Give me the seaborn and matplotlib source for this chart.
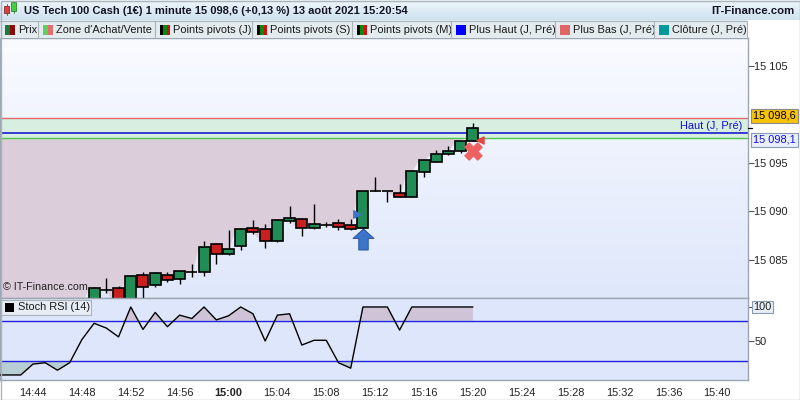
import numpy as np
import pandas as pd
import matplotlib
matplotlib.use("Agg")
import matplotlib.pyplot as plt
import seaborn as sns
from matplotlib.patches import Rectangle
from matplotlib.path import Path

# ---------------- data (minute = minutes after 14:00) ----------------
minutes = list(range(41, 81))
opens = [15078.0, 15078.4, 15078.2, 15078.9, 15079.1, 15078.7, 15079.2, 15080.0,
         15080.6, 15081.9, 15082.1, 15080.5, 15083.45, 15082.42, 15083.45, 15083.04,
         15083.76, 15083.76, 15086.65, 15085.62, 15086.44, 15088.30, 15088.20, 15086.96,
         15089.02, 15089.23, 15088.30, 15088.61, 15088.81, 15088.61, 15088.30, 15092.11,
         15092.11, 15091.91, 15091.49, 15094.07, 15095.10, 15095.93, 15096.24, 15097.27]
highs = [15078.6, 15078.9, 15079.0, 15079.5, 15079.4, 15079.4, 15080.3, 15080.8,
         15082.2, 15083.14, 15082.3, 15083.35, 15083.76, 15083.76, 15083.76, 15083.87,
         15084.59, 15086.96, 15086.75, 15088.09, 15088.30, 15089.12, 15088.71, 15089.12,
         15090.57, 15089.23, 15090.77, 15088.92, 15089.23, 15089.23, 15092.11, 15093.56,
         15092.11, 15092.84, 15094.28, 15095.31, 15096.34, 15096.75, 15097.27, 15099.12]
lows = [15077.6, 15077.9, 15077.8, 15078.5, 15078.4, 15078.3, 15078.9, 15079.7,
        15080.3, 15081.6, 15080.2, 15080.3, 15081.0, 15082.22, 15082.73, 15082.53,
        15083.25, 15083.35, 15084.59, 15085.52, 15086.03, 15087.68, 15086.24, 15086.86,
        15088.81, 15087.47, 15088.20, 15088.40, 15088.09, 15088.09, 15088.20, 15092.11,
        15090.98, 15091.49, 15091.49, 15093.56, 15095.10, 15095.82, 15096.03, 15097.27]
closes = [15078.4, 15078.2, 15078.9, 15079.1, 15078.7, 15079.2, 15080.0, 15080.6,
          15082.11, 15081.9, 15080.5, 15083.35, 15082.22, 15083.66, 15082.94, 15083.87,
          15083.76, 15086.34, 15085.62, 15086.13, 15088.20, 15087.89, 15086.96, 15089.12,
          15089.33, 15088.30, 15088.71, 15088.61, 15088.40, 15088.20, 15092.11, 15092.11,
          15092.11, 15091.49, 15094.18, 15095.31, 15095.93, 15096.24, 15097.27, 15098.61]

stoch_rsi = [0, 0, 0, 16, 18, 7, 18, 52, 76, 69, 56, 100, 67, 92, 71, 88, 83, 100,
             81, 87, 100, 90, 50, 88, 90, 44, 51, 51, 18, 10, 100, 100, 100, 66, 100,
             100, 100, 100, 100, 100]

level_red = 15099.6      # upper line of the band
level_high = 15098.1     # Plus Haut (J, Pré)
level_green = 15097.6    # lower line of the band
last_price = 15098.6

buy_arrow_min = 71
buy_tri = (70.5, 15089.7)
sell_x = (80, 15096.2)
sell_tri = (80.6, 15097.4)

tick_minutes = list(range(44, 101, 4))
tick_labels = [f"{14 + m // 60}:{m % 60:02d}" for m in tick_minutes]
price_ticks = [15085, 15090, 15095, 15105]

df = pd.DataFrame({"minute": minutes, "open": opens, "high": highs,
                   "low": lows, "close": closes, "rsi": stoch_rsi})

# ---------------- style ----------------
sns.set_theme(style="white")
plt.rcParams["font.family"] = ["Liberation Sans", "DejaVu Sans"]
FS = 7.9

W, H = 800, 400
fig = plt.figure(figsize=(8, 4), dpi=100)
fig.patch.set_facecolor("white")

ax = fig.add_axes([0, 102 / H, 747.5 / W, 260 / H], zorder=2)
axr = fig.add_axes([0, 20 / H, 747.5 / W, 82 / H], zorder=2)
ov = fig.add_axes([0, 0, 1, 1], zorder=5)
ov.set_xlim(0, W)
ov.set_ylim(H, 0)
ov.axis("off")
ov.patch.set_alpha(0)

x_lo, x_hi = 41.30, 102.47
y_lo, y_hi = 15081.08, 15107.89
spine_c = "#9ba6b0"

# ---------------- main panel ----------------
ax.set_xlim(x_lo, x_hi)
ax.set_ylim(y_lo, y_hi)
grad = np.linspace(0, 1, 256).reshape(-1, 1)
ax.imshow(grad, extent=[x_lo, x_hi, y_lo, y_hi], aspect="auto", origin="upper",
          cmap=matplotlib.colors.LinearSegmentedColormap.from_list("bg", ["#f9fbff", "#dfe7fb"]),
          zorder=0)

# buy/sell zone: flat over each candle, sloping to the next one
zx, zy = [], []
for m, c in zip(df["minute"], df["close"]):
    zx += [m - 0.45, m]
    zy += [c, c]
zx = np.concatenate([[x_lo - 1], zx])
zy = np.concatenate([[zy[0]], zy])
ax.fill_between(zx, zy, level_green, where=zy < level_green, interpolate=True,
                color="#dccddb", lw=0, zorder=1)
ax.axhspan(level_green, level_red, color="#d7eee1", lw=0, zorder=1)
ax.axhline(level_red, color="#e26a6a", lw=1, zorder=2)
ax.axhline(level_high, color="#0a0ad0", lw=1.1, zorder=2)
ax.axhline(level_green, color="#4cc94c", lw=1, zorder=2)

# candles
up = df["close"] >= df["open"]
body_bottom = np.minimum(df["open"], df["close"])
body_h = np.maximum((df["close"] - df["open"]).abs(), 0.0001)
ax.vlines(df["minute"], df["low"], df["high"], color="black", lw=1, zorder=3)
ax.bar(df["minute"], body_h, bottom=body_bottom, width=0.9,
       color=np.where(up, "#1f8d55", "#c91f1f"), edgecolor="black", lw=1.2, zorder=4)

# signals
arrow = Path([(0, 1), (-1, 0.1), (-0.45, 0.1), (-0.45, -1), (0.45, -1), (0.45, 0.1), (1, 0.1), (0, 1)])
buy_row = df[df["minute"] == buy_arrow_min].iloc[0]
sns.scatterplot(x=[buy_arrow_min], y=[buy_row["low"] - 1.05], marker=arrow, s=230,
                color="#3b74c9", edgecolor="#1d4e9a", linewidth=0.6, ax=ax, zorder=6)
ax.scatter([buy_tri[0]], [buy_tri[1]], marker=">", s=28, color="#3b74c9", zorder=6)
ax.scatter([sell_x[0]], [sell_x[1]], marker="X", s=150, color="#f06262", edgecolor="#f06262", zorder=6)
ax.scatter([sell_tri[0]], [sell_tri[1]], marker="<", s=26, color="#e04848", zorder=6)

ax.yaxis.tick_right()
ax.set_yticks(price_ticks)
ax.set_yticklabels([f"{v:,}".replace(",", " ") for v in price_ticks])
ax.tick_params(axis="y", direction="out", length=4, width=0.8, color="#555555",
               labelsize=FS, labelcolor="#222222", pad=1)
ax.set_xticks([])
for s in ax.spines.values():
    s.set_color(spine_c)
    s.set_linewidth(1)
ax.text(0.004, 0.042, "© IT-Finance.com", transform=ax.transAxes, fontsize=7.7,
        color="#222222", va="center", ha="left", zorder=7)
ax.text(0.993, ((level_red + level_high) / 2 - y_lo) / (y_hi - y_lo), "Haut (J, Pré)",
        transform=ax.transAxes, fontsize=FS, color="#1010e0", ha="right", va="center", zorder=7)

# ---------------- Stoch RSI panel ----------------
axr.set_xlim(x_lo, x_hi)
axr.set_ylim(-7.4, 113.2)
axr.set_facecolor("#dde6fb")
rx = df["minute"].to_numpy(float)
ry = df["rsi"].to_numpy(float)
axr.fill_between(rx, ry, 80, where=ry > 80, interpolate=True, color="#cfc3d7", lw=0, zorder=1)
axr.fill_between(rx, ry, 20, where=ry < 20, interpolate=True, color="#b7cfd4", lw=0, zorder=1)
axr.axhline(80, color="#2222dd", lw=1, zorder=2)
axr.axhline(20, color="#2222dd", lw=1, zorder=2)
sns.lineplot(data=df, x="minute", y="rsi", color="black", lw=1, ax=axr, zorder=3)
axr.set_xlabel("")
axr.set_ylabel("")
axr.yaxis.tick_right()
axr.set_yticks([100, 50])
axr.set_yticklabels(["", "50"])
axr.tick_params(axis="y", direction="out", length=4, width=0.8, color="#555555",
                labelsize=FS, labelcolor="#222222", pad=1)
axr.set_xticks(tick_minutes)
axr.set_xticklabels(tick_labels)
axr.tick_params(axis="x", direction="out", length=4, width=0.8, color="#777777",
                labelsize=FS, labelcolor="#222222", pad=2)
for lab in axr.get_xticklabels():
    if lab.get_text() == "15:00":
        lab.set_fontweight("bold")
for s in axr.spines.values():
    s.set_color(spine_c)
    s.set_linewidth(1)

# ---------------- header / legend / labels (pixel overlay) ----------------
hdr = np.linspace(0, 1, 64).reshape(-1, 1)
ov.imshow(hdr, extent=[0, W, 20, 0], aspect="auto", zorder=0,
          cmap=matplotlib.colors.LinearSegmentedColormap.from_list("hd", ["#eef6fb", "#cfe2ee"]))
ov.add_patch(Rectangle((4, 6), 5, 7, facecolor="#e04040", edgecolor="#803030", lw=0.6, zorder=2))
ov.plot([6.5, 6.5], [4, 15], color="#803030", lw=0.6, zorder=1)
ov.add_patch(Rectangle((11, 2), 5, 9, facecolor="#40d040", edgecolor="#308030", lw=0.6, zorder=2))
ov.plot([13.5, 13.5], [0.5, 13], color="#308030", lw=0.6, zorder=1)
ov.text(24, 11, "US Tech 100 Cash (1€) 1 minute 15 098,6 (+0,13 %) 13 août 2021 15:20:54",
        fontsize=8.0, fontweight="bold", color="#141428", va="center", ha="left")
ov.text(795, 11, "IT-Finance.com", fontsize=8.2, fontweight="bold", color="#141428",
        va="center", ha="right")

ov.add_patch(Rectangle((0, 20), 747, 18, facecolor="#e3ebef", edgecolor="none", zorder=1))
ov.plot([0, 747, 747], [20.5, 20.5, 38], color="#a9b4bc", lw=0.8, zorder=2)
legend_items = [("Prix", ["#1b7a3c", "#8a0a0a"]),
                ("Zone d'Achat/Vente", ["#5fd05f", "#e07070"]),
                ("Points pivots (J)", ["#000000", "#0a8a0a", "#d01010"]),
                ("Points pivots (S)", ["#000000", "#0a8a0a", "#d01010"]),
                ("Points pivots (M)", ["#000000", "#0a8a0a", "#d01010"]),
                ("Plus Haut (J, Pré)", ["#0000ff"]),
                ("Plus Bas (J, Pré)", ["#e06666"]),
                ("Clôture (J, Pré)", ["#009b99"])]
item_edges = [0, 38, 155, 252, 352, 451, 555, 654, 747]
for i, (name, cols) in enumerate(legend_items):
    x0 = item_edges[i]
    sw = 10 / len(cols)
    for k, c in enumerate(cols):
        ov.add_patch(Rectangle((x0 + 5 + k * sw, 24.5), sw, 10, facecolor=c, edgecolor="none", zorder=3))
    ov.text(x0 + 18, 30, name, fontsize=7.9, color="#1a1a1a", va="center", ha="left", zorder=3)
    if i > 0:
        ov.plot([x0, x0], [21, 38], color="#a9b4bc", lw=0.8, zorder=3)

# stoch label box
ov.add_patch(Rectangle((1, 300), 90, 15, facecolor="#e6edf4", edgecolor="#a9b4bc", lw=0.8, zorder=3))
ov.add_patch(Rectangle((5, 303), 9, 9, facecolor="black", edgecolor="none", zorder=4))
ov.text(18, 307.5, "Stoch RSI (14)", fontsize=7.9, color="#1a1a1a", va="center", ha="left", zorder=4)

# price labels
ov.text(753, 116, f"{last_price:,.1f}".replace(",", " ").replace(".", ","), fontsize=FS,
        color="black", va="center", ha="left", zorder=6,
        bbox=dict(boxstyle="square,pad=0.18", facecolor="#f7c20a", edgecolor="#8a8a8a", lw=0.8))
ov.text(753, 140, f"{level_high:,.1f}".replace(",", " ").replace(".", ","), fontsize=FS,
        color="#1010e0", va="center", ha="left", zorder=6,
        bbox=dict(boxstyle="square,pad=0.18", facecolor="#e8eefa", edgecolor="#8a9ab0", lw=0.8))
ov.plot([748, 752], [128, 128], color="black", lw=0.9, zorder=6)
ov.text(753, 307, "100", fontsize=FS, color="#222222", va="center", ha="left", zorder=6,
        bbox=dict(boxstyle="square,pad=0.12", facecolor="#e8eef5", edgecolor="#8a9ab0", lw=0.8))

ov.add_patch(Rectangle((0.5, 0.5), W - 1, H - 1, facecolor="none", edgecolor="#a9b4bc", lw=1, zorder=7))

fig.savefig("out.png", dpi=100)
